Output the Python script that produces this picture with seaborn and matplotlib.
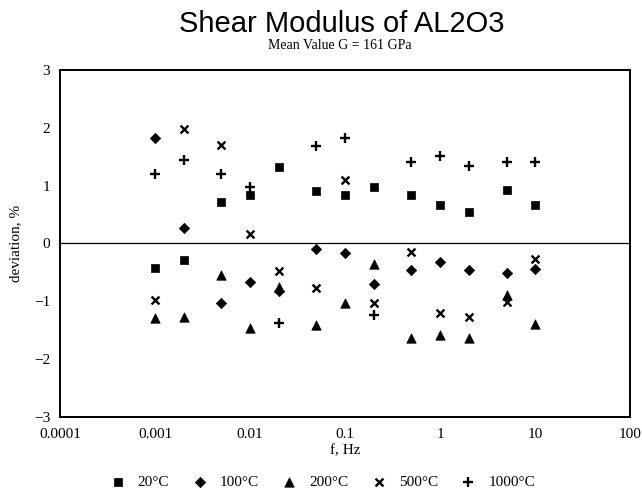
import matplotlib
matplotlib.use("Agg")
import matplotlib.pyplot as plt
import seaborn as sns
import numpy as np
from matplotlib.ticker import FixedLocator, FixedFormatter, NullLocator

freqs = [0.001, 0.002, 0.005, 0.01, 0.02, 0.05, 0.1, 0.2, 0.5, 1, 2, 5, 10]
dev_20C = [-0.42, -0.29, 0.71, 0.84, 1.33, 0.91, 0.84, 0.97, 0.84, 0.67, 0.54, 0.92, 0.67]
dev_100C = [1.82, 0.27, -1.03, -0.66, -0.83, -0.10, -0.16, -0.71, -0.46, -0.33, -0.46, -0.52, -0.45]
dev_200C = [-1.29, -1.28, -0.55, -1.47, -0.75, -1.41, -1.03, -0.35, -1.64, -1.59, -1.64, -0.90, -1.40]
dev_500C = [-0.98, 1.98, 1.71, 0.16, -0.47, -0.78, 1.09, -1.03, -0.15, -1.21, -1.27, -1.01, -0.27]
dev_1000C = [1.20, 1.45, 1.20, 0.98, -1.38, 1.69, 1.83, -1.24, 1.40, 1.52, 1.34, 1.40, 1.40]
series_labels = ["20°C", "100°C", "200°C", "500°C", "1000°C"]
x_tick_vals = [0.0001, 0.001, 0.01, 0.1, 1, 10, 100]
x_tick_labels = ["0.0001", "0.001", "0.01", "0.1", "1", "10", "100"]
y_tick_vals = [-3, -2, -1, 0, 1, 2, 3]
y_tick_labels = ["\u22123", "\u22122", "\u22121", "0", "1", "2", "3"]

sns.set_style("white")
plt.rcParams['font.family'] = ['Liberation Serif', 'DejaVu Serif']
plt.rcParams['axes.unicode_minus'] = True
plt.rcParams['text.color'] = 'black'
plt.rcParams['axes.labelcolor'] = 'black'

fig = plt.figure(figsize=(6.42, 4.88), dpi=100)
ax = fig.add_axes([0.0935, 0.146, 0.888, 0.7105])

series = [dev_20C, dev_100C, dev_200C, dev_500C, dev_1000C]
markers = ['s', 'D', '^', 'x', '+']
sizes = [40, 28, 46, 32, 44]
for vals, lab, m, s in zip(series, series_labels, markers, sizes):
    if m in ('x', '+'):
        sns.scatterplot(x=freqs, y=vals, marker=m, color='black', s=s,
                        linewidth=1.7, label=lab, ax=ax)
    else:
        sns.scatterplot(x=freqs, y=vals, marker=m, color='black', s=s,
                        edgecolor='black', linewidth=0.5, label=lab, ax=ax)

ax.set_xscale('log')
ax.set_xlim(0.0001, 100)
ax.set_ylim(-3, 3)
ax.axhline(0, color='black', linewidth=0.9, zorder=1)
ax.xaxis.set_major_locator(FixedLocator(x_tick_vals))
ax.xaxis.set_major_formatter(FixedFormatter(x_tick_labels))
ax.xaxis.set_minor_locator(NullLocator())
ax.yaxis.set_major_locator(FixedLocator(y_tick_vals))
ax.yaxis.set_major_formatter(FixedFormatter(y_tick_labels))
ax.tick_params(direction='in', length=4, width=0.8, labelsize=11, colors='black')
ax.tick_params(axis='x', pad=8)
ax.tick_params(axis='y', pad=7)
for sp in ax.spines.values():
    sp.set_color('black')
    sp.set_linewidth(1.4)

ax.set_xlabel("f, Hz", fontsize=11)
ax.set_ylabel("deviation, %", fontsize=11)
ax.xaxis.set_label_coords(0.5, -0.08)
ax.yaxis.set_label_coords(-0.066, 0.5)

leg = ax.legend(loc='center', bbox_to_anchor=(0.454, -0.19), ncol=5, frameon=False,
                fontsize=11, handletextpad=0.3, columnspacing=1.0, markerscale=1.0)

fig.text(0.533, 0.950, "Shear Modulus of AL2O3", ha='center', va='center',
         fontsize=21, family=['Liberation Sans', 'DejaVu Sans'])
fig.text(0.53, 0.906, "Mean Value G = 161 GPa", ha='center', va='center', fontsize=10)

fig.savefig("out.png", dpi=100)
